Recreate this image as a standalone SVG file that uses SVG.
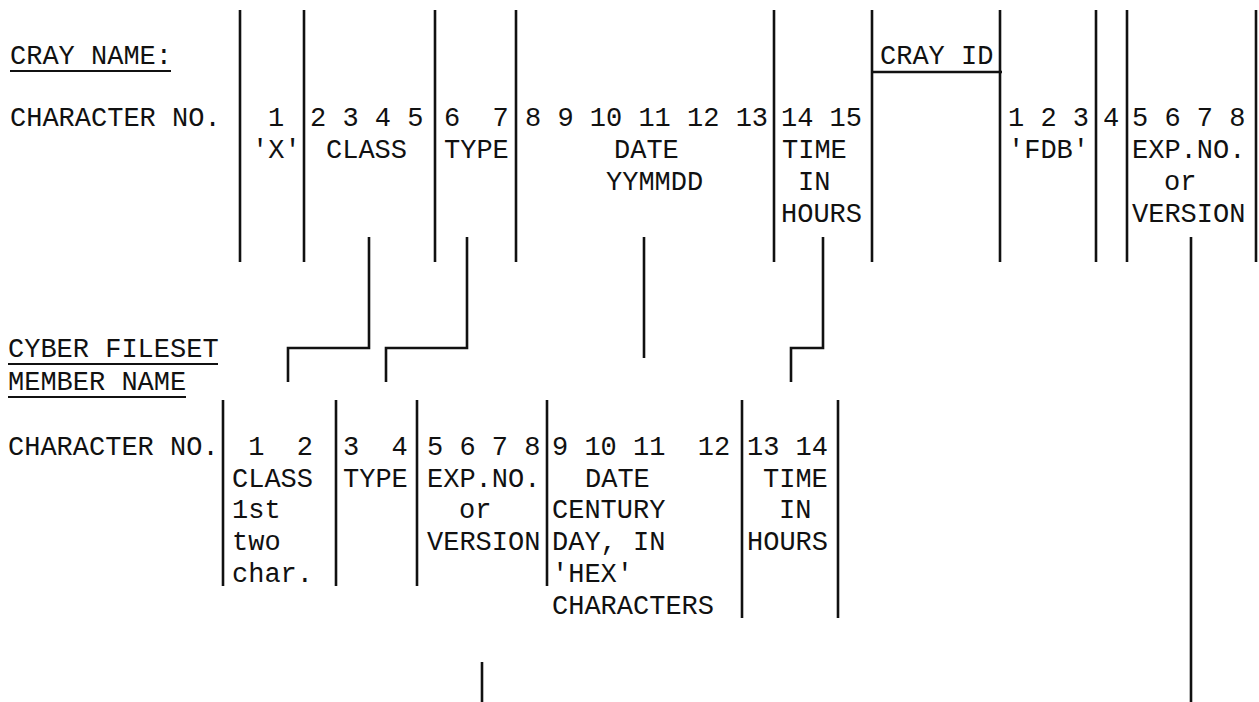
<svg xmlns="http://www.w3.org/2000/svg" width="1259" height="702" viewBox="0 0 1259 702" xml:space="preserve">
<style>
text{font-family:"Liberation Mono","Courier New",monospace;font-size:27px;fill:#111;white-space:pre}
.r{stroke:#111;stroke-width:2.6;fill:none}
.u{stroke:#111;stroke-width:2;fill:none}
.c{stroke:#111;stroke-width:2.6;fill:none}
</style>
<rect width="1259" height="702" fill="#fff"/>
<g id="labels">
<text x="10" y="64">CRAY NAME:</text>
<line class="u" x1="10" y1="71" x2="171" y2="71"/>
<text x="10" y="126">CHARACTER NO.</text>
<text x="8" y="357">CYBER FILESET</text>
<line class="u" x1="8" y1="364" x2="218" y2="364"/>
<text x="8" y="390">MEMBER NAME</text>
<line class="u" x1="8" y1="397" x2="186" y2="397"/>
<text x="8" y="455">CHARACTER NO.</text>
</g>
<g id="cray-rules">
<line class="r" x1="240" y1="10" x2="240" y2="262"/>
<line class="r" x1="304" y1="10" x2="304" y2="262"/>
<line class="r" x1="435" y1="10" x2="435" y2="262"/>
<line class="r" x1="516" y1="10" x2="516" y2="262"/>
<line class="r" x1="774" y1="10" x2="774" y2="262"/>
<line class="r" x1="872" y1="10" x2="872" y2="262"/>
<line class="r" x1="1000" y1="10" x2="1000" y2="262"/>
<line class="r" x1="1096" y1="10" x2="1096" y2="262"/>
<line class="r" x1="1127" y1="10" x2="1127" y2="262"/>
<line class="r" x1="1256" y1="10" x2="1256" y2="262"/>
</g>
<g id="cray-x"><text x="268" y="126">1</text><text x="252" y="158">'X'</text></g>
<g id="cray-class"><text x="310" y="126">2 3 4 5</text><text x="326" y="158">CLASS</text></g>
<g id="cray-type"><text x="444" y="126">6  7</text><text x="444" y="158">TYPE</text></g>
<g id="cray-date"><text x="525" y="126">8 9 10 11 12 13</text><text x="614" y="158">DATE</text><text x="606" y="190">YYMMDD</text></g>
<g id="cray-time"><text x="781" y="126">14 15</text><text x="782" y="158">TIME</text><text x="798" y="190">IN</text><text x="781" y="222">HOURS</text></g>
<g id="cray-id"><text x="880" y="64">CRAY ID</text><line class="r" x1="872" y1="72" x2="1002" y2="72"/></g>
<g id="cray-fdb"><text x="1008" y="126">1 2 3</text><text x="1008" y="158">'FDB'</text></g>
<g id="cray-4"><text x="1103" y="126">4</text></g>
<g id="cray-exp"><text x="1132" y="126">5 6 7 8</text><text x="1132" y="158">EXP.NO.</text><text x="1164" y="190">or</text><text x="1132" y="222">VERSION</text></g>
<g id="cyber-rules">
<line class="r" x1="223" y1="400" x2="223" y2="586"/>
<line class="r" x1="336" y1="400" x2="336" y2="586"/>
<line class="r" x1="417" y1="400" x2="417" y2="586"/>
<line class="r" x1="547" y1="400" x2="547" y2="586"/>
<line class="r" x1="742" y1="400" x2="742" y2="618"/>
<line class="r" x1="838" y1="400" x2="838" y2="618"/>
</g>
<g id="cyber-class"><text x="232" y="455"> 1  2</text><text x="232" y="487">CLASS</text><text x="232" y="518">1st</text><text x="232" y="550">two</text><text x="232" y="582">char.</text></g>
<g id="cyber-type"><text x="343" y="455">3  4</text><text x="343" y="487">TYPE</text></g>
<g id="cyber-exp"><text x="427" y="455">5 6 7 8</text><text x="427" y="487">EXP.NO.</text><text x="459" y="518">or</text><text x="427" y="550">VERSION</text></g>
<g id="cyber-date"><text x="552" y="455">9 10 11  12</text><text x="585" y="487">DATE</text><text x="552" y="518">CENTURY</text><text x="552" y="550">DAY, IN</text><text x="552" y="582">'HEX'</text><text x="552" y="614">CHARACTERS</text></g>
<g id="cyber-time"><text x="747" y="455">13 14</text><text x="763" y="487">TIME</text><text x="779" y="518">IN</text><text x="747" y="550">HOURS</text></g>
<g id="connectors">
<polyline class="c" points="369,237 369,348 288,348 288,382"/>
<polyline class="c" points="467,237 467,348 386,348 386,382"/>
<line class="c" x1="644" y1="237" x2="644" y2="358"/>
<polyline class="c" points="823,237 823,348 791,348 791,382"/>
<line class="c" x1="1191" y1="237" x2="1191" y2="702"/>
<line class="c" x1="482" y1="662" x2="482" y2="702"/>
</g>
</svg>
